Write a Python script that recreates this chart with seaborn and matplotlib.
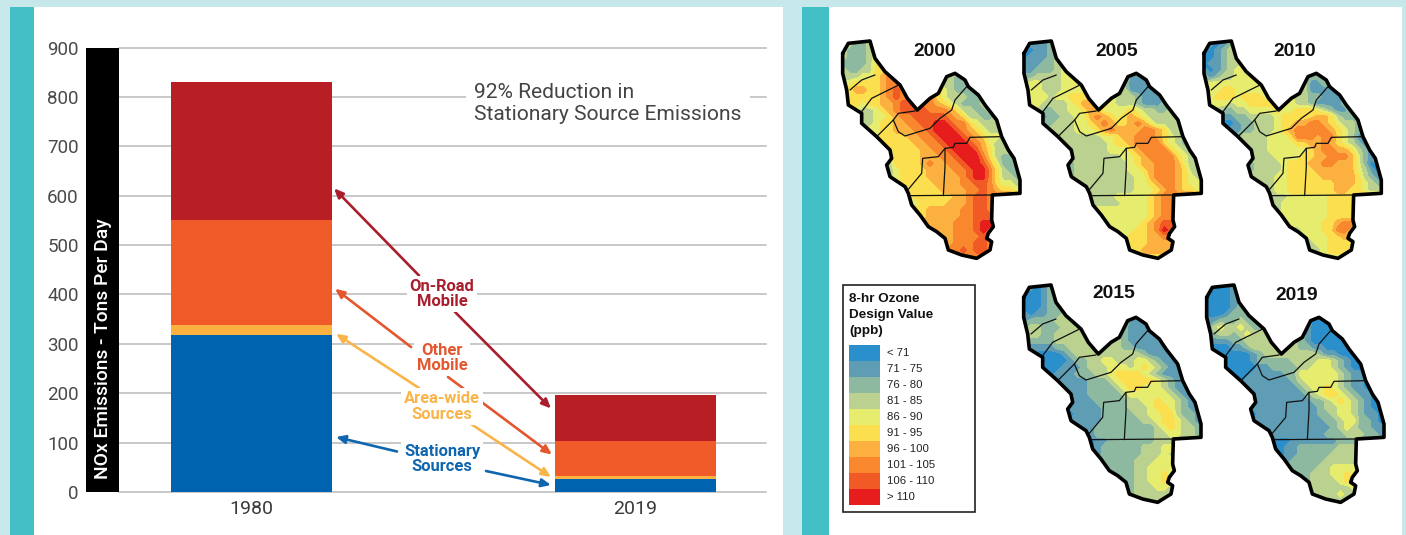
import numpy as np
import pandas as pd
import matplotlib
matplotlib.use('Agg')
import matplotlib.pyplot as plt
from matplotlib.colors import ListedColormap
from matplotlib.patches import Polygon, Rectangle
import seaborn as sns

W, H = 1406, 535

# ---------- left chart data ----------
years = ['1980', '2019']
sources = ['Stationary', 'Area-wide', 'Other Mobile', 'On-Road Mobile']
stationary = [318, 26]
area_wide = [20, 7]
other_mobile = [213, 71]
on_road = [279, 93]
bar_colors = ['#0063B0', '#FBB040', '#F15A29', '#B71F24']
y_ticks = [0, 100, 200, 300, 400, 500, 600, 700, 800, 900]

# ---------- right maps data: one digit per grid cell = ozone class ----------
class_labels = ['< 71', '71 - 75', '76 - 80', '81 - 85', '86 - 90', '91 - 95',
                '96 - 100', '101 - 105', '106 - 110', '> 110']
class_colors = ['#2A8FCB', '#5F9DB5', '#8DB9A0', '#BAD18F', '#E6EC6E', '#FBDF4E',
                '#FBB040', '#F9872D', '#F15A24', '#E71C1C']

ozone_2000 = [
    ".3223", "32223", "322234", "222235", "3223355",
    "33344567........322", "445555677......33223", ".566556787.....432223",
    ".555556787....54333223", ".5545566788.7765432223", ".5433456788887776533223",
    "...334456778888876533223", "...334556677889987754333", "....445566677899987654333",
    ".....45555667789998765443", "......5555566778999876433", ".......4555566778999865333",
    ".......45555666778999753223", ".......35555676677899864223", ".......34555566667789975322",
    ".......34555566666789975332", "........45555566667788754433", ".........5555556666778765544",
    "..........4555555667887", "..........4455556667887", "...........556666677887",
    "............56666677888", ".............66667778998", "..............666777898",
    "...............66777787", "................6777887", "................7787887",
    "..................7777",
]
ozone_2005 = [
    ".1112", "10112", "011123", "111223", "1122234",
    "22333344........111", "344333444......21111", ".443334444.....311112",
    ".444344555....33321112", ".4433334566.5433321112", ".3322334456544445433223",
    "...122334467654565433333", "...223334456765567643333", "....333344456766667765333",
    ".....33333334456677765432", "......3333333455677775432", ".......3333334445677775432",
    ".......33333333445677775432", ".......23333333345667776432", ".......23333333344567776533",
    ".......23333333334467776543", "........33333333344567765443", ".........3333333344456765544",
    "..........3333444445677", "..........3333344445677", "...........444444445677",
    "............44444445677", ".............44444567887", "..............444556798",
    "...............45556677", "................5556666", "................5566665",
    "..................5555",
]
ozone_2010 = [
    ".1012", "10123", "001233", "011233", "1012344",
    "21233444........222", "344444444......31122", ".445544444.....311112",
    ".455545554....33221112", ".4443445555.4433211112", ".3322334444544555432112",
    "...112233334555556653222", "...001223334556677654332", "....112233345677777654322",
    ".....23333444577767754311", "......3333444455667654321", ".......3334444445677665321",
    ".......33334444556677764211", ".......23333455566776664201", ".......23333455556666664310",
    ".......33334455555666665321", "........33344555555566654321", ".........3344555555566554332",
    "..........2334444445555", "..........3344444445555", "...........344444445555",
    "............44444445555", ".............44444556775", "..............344455776",
    "...............34445565", "................3445555", "................3345554",
    "..................4444",
]
ozone_2015 = [
    ".1012", "00012", "000122", "000122", "1011223",
    "12222333........111", "233222333......21111", ".332233333.....211111",
    ".222233333....32111111", ".1111223333.3332211111", ".1000012333333333321111",
    "...000012233443334432111", "...000111233344434543211", "....011122233455554321111",
    ".....11111222345555543211", "......1111222234554443211", ".......1112222234444443211",
    ".......11112222233445443211", ".......11111222233345543211", ".......01111222223344553221",
    ".......11111222222334554321", "........11122222222234543321", ".........1122222222233443322",
    "..........0112222222333", "..........0122222233344", "...........122222233343",
    "............22222333444", ".............22223344443", "..............222334454",
    "...............22334454", "................2333443", "................2333333",
    "..................3333",
]
ozone_2019 = [
    ".0001", "00001", "000012", "000012", "0001222",
    "11222322........000", "134334322......10000", ".233234333.....100000",
    ".111223333....21000000", ".0001123333.3322110000", ".0000001233333333211000",
    "...000012222233334432100", "...000001122223344432100", "....000111112244444432110",
    ".....01111111234444432110", "......1111111123445432110", ".......1111111123455432110",
    ".......11111111122345432100", ".......11111111112334432100", ".......01111111112234432110",
    ".......11111111111223442210", "........11111111111234322110", ".........1111111112223332211",
    "..........0001111111222", "..........0011222222333", "...........011222223333",
    "............12222233333", ".............22223344443", "..............223334454",
    "...............23333454", "................3333334", "................3333433",
    "..................3333",
]

# district outline and county lines, in the same units as the grid (cells)
outline_x = [0.4, 1.25, 4.5, 5.25, 6.75, 9, 10.1, 11.6, 13.5, 14.75, 16, 17.25, 18.75, 19.25,
             20.75, 21.75, 23.5, 24.25, 25.25, 26.1, 27, 27, 22.85, 22.75, 23, 22.25, 22,
             22.75, 22.5, 20.5, 18.25, 16.25, 15.75, 14.5, 13.25, 12, 10.75, 10.25, 9.75,
             7.5, 7, 7.75, 7.5, 5.5, 3.25, 3.25, 1.25, 1, 0.4, 0.4]
outline_y = [2, 0.5, 0.15, 2.75, 4.75, 6.75, 8.75, 10.5, 8.75, 8, 5.5, 5, 6, 7,
             8.25, 9.75, 12, 14.5, 16.5, 17.75, 21, 23, 23.25, 27, 28, 29, 29.75,
             30.25, 31.5, 32.75, 32.25, 31.5, 29.75, 28.75, 28, 26.25, 24.75, 23, 22,
             20.5, 18.75, 17.75, 16.5, 14.5, 12.5, 11, 9.75, 7.5, 5, 2]
county_lines = [
    ([5.25, 3.25, 1.5], [5.25, 6, 7.5]),
    ([9, 4.75, 3.25], [6.65, 8.75, 10.75]),
    ([11.25, 8.75, 8, 5.5], [10.65, 11, 12, 14.5]),
    ([8, 8.75, 9.75, 13.5, 15, 16.75, 17.25, 19], [12, 13.75, 14.4, 13.25, 11.75, 10.5, 9, 7]),
    ([24.25, 19.5, 19, 17.25, 17, 15.75, 14.75, 12.4, 12.25, 10.25],
     [14.5, 14.6, 15.5, 15.5, 16.1, 16.25, 17.5, 17.75, 20, 22.4]),
    ([15.75, 15.75, 15.5], [16.25, 19, 23.35]),
    ([10.5, 22.85], [23.35, 23.25]),
]

map_years = ['2000', '2005', '2010', '2015', '2019']
map_grids = [ozone_2000, ozone_2005, ozone_2010, ozone_2015, ozone_2019]

sns.set_theme(style='white')
plt.rcParams['font.family'] = ['Roboto', 'DejaVu Sans']

fig = plt.figure(figsize=(W / 100, H / 100), dpi=100, facecolor='#C6E8EA')


def fx(px):
    return px / W


def fy(py):
    return 1 - py / H


def add_axes_px(left, top, right, bottom):
    return fig.add_axes([fx(left), fy(bottom), (right - left) / W, (bottom - top) / H])


def panel(left, top, right, bottom, color):
    fig.add_artist(Rectangle((fx(left), fy(bottom)), (right - left) / W, (bottom - top) / H,
                             transform=fig.transFigure, facecolor=color, edgecolor='none', zorder=0))


panel(10, 7, 34, 535, '#43C0C6')
panel(34, 7, 783, 535, 'white')
panel(802, 7, 829, 535, '#43C0C6')
panel(829, 7, 1402, 535, 'white')

# ---------- stacked bars ----------
ax = add_axes_px(119, 47.5, 766, 492)
ax.patch.set_alpha(0)
tops = np.cumsum([stationary, area_wide, other_mobile, on_road], axis=0)
bars_df = pd.DataFrame({
    'year': years * len(sources),
    'source': [s for s in sources for _ in years],
    'top': tops.flatten(),
})
sns.barplot(data=bars_df, x='year', y='top', hue='source', dodge=False, width=0.42,
            hue_order=sources[::-1], palette=dict(zip(sources, bar_colors)),
            saturation=1, legend=False, linewidth=0, ax=ax, zorder=3)
ax.set_xlim((119 - 251.5) / 384, (766 - 251.5) / 384)
ax.set_ylim(0, 900)
ax.set_yticks(y_ticks)
ax.set_xlabel('')
ax.set_ylabel('')
ax.grid(axis='y', color='#C8C8C8', linewidth=1.4)
ax.grid(axis='x', visible=False)
ax.set_axisbelow(True)
sns.despine(ax=ax, left=True, bottom=True, top=True, right=True)
ax.tick_params(axis='y', length=0, pad=29, labelsize=13.5, labelcolor='#4A4A4A')
ax.tick_params(axis='x', length=0, pad=6, labelsize=14, labelcolor='#3A3A3A')
for line in ax.get_ygridlines():
    line.set_clip_on(False)

# black band with the axis title
fig.add_artist(Rectangle((fx(86), fy(492)), 33 / W, 444.5 / H, transform=fig.transFigure,
                         facecolor='black', edgecolor='none', zorder=5))
fig.text(fx(103), fy(349), 'NOx Emissions - Tons Per Day', color='white', fontsize=13.9,
         fontweight='medium', rotation=90, ha='center', va='center', zorder=6)


def arrow(tail, head, color):
    ax.annotate('', xy=(fx(head[0]), fy(head[1])), xytext=(fx(tail[0]), fy(tail[1])),
                xycoords='figure fraction', textcoords='figure fraction', zorder=4,
                arrowprops=dict(arrowstyle='-|>,head_length=0.45,head_width=0.2', color=color,
                                lw=1.9, shrinkA=0, shrinkB=0))


def label(px, py, text, color):
    ax.text(fx(px), fy(py), text, transform=fig.transFigure, color=color, fontsize=11.9,
            fontweight='bold', ha='center', va='center', linespacing=1.05, zorder=5,
            bbox=dict(facecolor='white', edgecolor='none', pad=2))


road_c, other_c, area_c, stat_c = '#A91E2C', '#E4572E', '#F9B44A', '#1066AE'
arrow((419, 275.5), (334, 188.4), road_c)
arrow((455, 312), (551, 408.5), road_c)
arrow((411, 347), (335, 288.7), other_c)
arrow((448, 377), (552, 454.6), other_c)
arrow((419, 388), (336, 333.8), area_c)
arrow((471, 424), (551, 477), area_c)
arrow((397, 451.5), (336, 437), stat_c)
arrow((486, 471), (551, 485), stat_c)
label(442, 294, 'On-Road\nMobile', road_c)
label(442, 358, 'Other\nMobile', other_c)
label(442, 406.5, 'Area-wide\nSources', area_c)
label(442, 459, 'Stationary\nSources', stat_c)

ax.text(fx(474), fy(103.5), '92% Reduction in\nStationary Source Emissions', transform=fig.transFigure,
        color='#444444', fontsize=15.1, ha='left', va='center', linespacing=1.25, zorder=5,
        bbox=dict(facecolor='white', edgecolor='none', pad=6))

# ---------- ozone maps ----------
map_cmap = ListedColormap(class_colors)
map_offsets = [(830, 30), (1011.3, 30), (1191.3, 30), (1011, 274), (1194, 274)]
title_xy = [(935, 51), (1117, 51), (1295, 51), (1114, 294), (1297, 295)]
class_edges = np.arange(-0.5, 10.5)

for year, grid, (ox, oy), (tx, ty) in zip(map_years, map_grids, map_offsets, title_xy):
    rows = [list(r.ljust(28, '.')) for r in grid]
    cells = pd.DataFrame(rows).replace('.', np.nan).astype(float)
    cells = cells.ffill(axis=1).bfill(axis=1)  # only edges, the outline clips the rest
    m_ax = add_axes_px(ox + 10, oy + 10, ox + 10 + 560 / 3, oy + 10 + 220)
    sns.heatmap(cells, cmap=map_cmap, vmin=-0.5, vmax=9.5, cbar=False,
                xticklabels=False, yticklabels=False, ax=m_ax)
    m_ax.axis('off')
    shape = Polygon(np.column_stack([outline_x, outline_y]), closed=True, transform=m_ax.transData,
                    facecolor='none', edgecolor='none')
    m_ax.add_patch(shape)
    m_ax.collections[0].set_clip_path(shape)
    # same cells again as filled bands, the source map has no visible blocks at this size
    bands = m_ax.contourf(np.arange(28) + 0.5, np.arange(33) + 0.5, cells.values,
                          levels=class_edges, colors=class_colors, antialiased=False)
    bands.set_clip_path(shape)
    m_ax.plot(outline_x, outline_y, color='black', lw=2.6, solid_joinstyle='round', clip_on=False)
    for cx, cy in county_lines:
        m_ax.plot(cx, cy, color='#111111', lw=0.9, clip_on=False)
    fig.text(fx(tx), fy(ty), year, family=['Liberation Sans'], fontweight='bold', fontsize=13.9,
             color='#111111', ha='center', va='center')

# ---------- legend ----------
fig.add_artist(Rectangle((fx(843), fy(512)), 132 / W, 227 / H, transform=fig.transFigure,
                         facecolor='white', edgecolor='#222222', linewidth=1.2, zorder=1))
for i, line in enumerate(['8-hr Ozone', 'Design Value', '(ppb)']):
    fig.text(fx(849), fy(299 + 16 * i), line, family=['Liberation Sans'], fontweight='bold',
             fontsize=9.7, color='#111111', ha='left', va='center', zorder=2)
leg_ax = add_axes_px(849, 345, 880, 505)
leg_ax.set_zorder(3)
sns.heatmap(pd.DataFrame({'ppb': np.arange(len(class_labels))}), cmap=map_cmap, vmin=-0.5, vmax=9.5,
            cbar=False, xticklabels=False, yticklabels=False, ax=leg_ax)
leg_ax.axis('off')
for i, lab in enumerate(class_labels):
    fig.text(fx(887), fy(353 + 16 * i), lab, family=['Liberation Sans'], fontsize=8.2,
             color='#222222', ha='left', va='center', zorder=2)

fig.savefig('out.png', dpi=100, facecolor=fig.get_facecolor())
